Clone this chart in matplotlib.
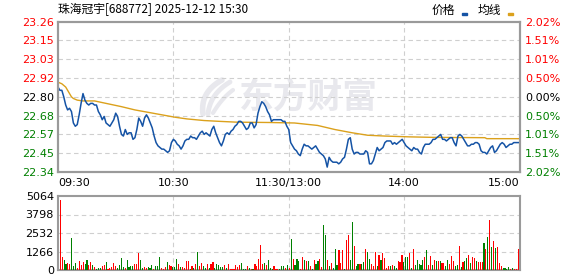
import matplotlib
matplotlib.use('Agg')
import matplotlib.pyplot as plt
import numpy as np

plt.rcParams['font.family'] = ['DejaVu Sans']

title = '珠海冠宇[688772] 2025-12-12 15:30'
prev_close = 22.80
price_labels = ['22.34', '22.45', '22.57', '22.68', '22.80', '22.92', '23.03', '23.15', '23.26']
pct_labels = ['2.02%', '1.51%', '1.01%', '0.50%', '0.00%', '0.50%', '1.01%', '1.51%', '2.02%']
vol_labels = ['0', '1266', '2532', '3798', '5064']
time_labels = ['09:30', '10:30', '11:30/13:00', '14:00', '15:00']

# one value per minute, 09:30 .. 11:30 / 13:00 .. 15:00
price = [
    22.86, 22.84, 22.84, 22.80, 22.75, 22.72, 22.73, 22.71, 22.64, 22.62,
    22.63, 22.69, 22.76, 22.82, 22.78, 22.76, 22.75, 22.76, 22.76, 22.75,
    22.75, 22.71, 22.69, 22.66, 22.68, 22.64, 22.63, 22.62, 22.64, 22.66,
    22.70, 22.68, 22.62, 22.57, 22.56, 22.60, 22.57, 22.58, 22.58, 22.54,
    22.55, 22.60, 22.67, 22.65, 22.62, 22.67, 22.69, 22.67, 22.64, 22.61,
    22.56, 22.52, 22.50, 22.49, 22.48, 22.48, 22.47, 22.46, 22.47, 22.52,
    22.54, 22.53, 22.51, 22.50, 22.48, 22.50, 22.53, 22.54, 22.54, 22.56,
    22.55, 22.55, 22.54, 22.56, 22.58, 22.59, 22.57, 22.58, 22.57, 22.56,
    22.60, 22.62, 22.58, 22.55, 22.52, 22.50, 22.53, 22.57, 22.58, 22.57,
    22.59, 22.60, 22.62, 22.63, 22.65, 22.65, 22.64, 22.62, 22.60, 22.61,
    22.64, 22.64, 22.61, 22.63, 22.70, 22.74, 22.77, 22.76, 22.74, 22.71,
    22.69, 22.65, 22.66, 22.66, 22.66, 22.66, 22.66, 22.65, 22.65, 22.62,
    22.60, 22.52, 22.50, 22.48, 22.47, 22.45, 22.44, 22.48, 22.51, 22.50,
    22.50, 22.49, 22.48, 22.49, 22.50, 22.48, 22.46, 22.45, 22.44, 22.42,
    22.37, 22.43, 22.41, 22.40, 22.40, 22.40, 22.39, 22.40, 22.42, 22.43,
    22.48, 22.54, 22.55, 22.48, 22.45, 22.46, 22.46, 22.45, 22.45, 22.45,
    22.47, 22.46, 22.39, 22.39, 22.41, 22.45, 22.49, 22.47, 22.48, 22.49,
    22.52, 22.53, 22.53, 22.53, 22.51, 22.52, 22.51, 22.52, 22.53, 22.54,
    22.52, 22.50, 22.49, 22.48, 22.47, 22.49, 22.48, 22.48, 22.46, 22.45,
    22.49, 22.51, 22.51, 22.51, 22.52, 22.54, 22.54, 22.55, 22.56, 22.57,
    22.54, 22.54, 22.53, 22.54, 22.55, 22.55, 22.52, 22.50, 22.56, 22.57,
    22.56, 22.54, 22.52, 22.50, 22.50, 22.51, 22.51, 22.52, 22.52, 22.51,
    22.47, 22.46, 22.46, 22.45, 22.47, 22.49, 22.50, 22.46, 22.47, 22.49,
    22.51, 22.52, 22.51, 22.49, 22.50, 22.51, 22.51, 22.52, 22.52, 22.52,
    22.52,
]

# average price line, read at its bends
avg_min = [0, 2, 4, 5, 7, 8, 10, 13, 19, 23, 27, 33, 40, 47, 54, 61, 67, 76,
           84, 93, 110, 123, 127, 135, 144, 153, 161, 170, 183, 195, 222, 223, 240]
avg_val = [22.89, 22.88, 22.86, 22.84, 22.80, 22.79, 22.78, 22.775, 22.775, 22.765,
           22.755, 22.74, 22.72, 22.705, 22.69, 22.675, 22.665, 22.655, 22.65, 22.645,
           22.643, 22.64, 22.635, 22.625, 22.60, 22.58, 22.565, 22.56, 22.555, 22.552,
           22.55, 22.544, 22.544]

vol_am1 = [4805, 867, 703, 422, 492, 422, 2180, 281, 469, 117,
           633, 352, 539, 422, 703, 352, 563, 352, 234, 70,
           141, 141, 305, 352, 563, 94, 141, 234, 492, 305,
           141, 352, 844, 234, 141, 703, 211, 305, 305, 422,
           422, 1195, 703, 164, 211, 141, 234, 164, 352, 94,
           281, 281, 914, 141, 94, 234, 563, 352, 305, 234, 211]
vol_am2 = [773, 398, 234, 234, 141, 633, 633, 94, 281, 117,
           422, 1266, 281, 469, 281, 141, 422, 141, 422, 563,
           141, 422, 352, 234, 234, 352, 141, 422, 94, 94,
           94, 352, 234, 352, 492, 94, 94, 281, 141, 94,
           94, 422, 281, 773, 1688, 422, 492, 352, 703, 141,
           94, 281, 94, 94, 94, 281, 281, 141, 352, 141]
vol_pm1 = [2110, 773, 352, 773, 633, 94, 914, 703, 633, 633,
           281, 94, 703, 422, 633, 773, 211, 3094, 2391, 703,
           281, 492, 141, 1406, 352, 1336, 492, 1336, 94, 2039,
           2391, 703, 3305, 1617, 281, 422, 422, 422, 563, 1406,
           1266, 773, 422, 281, 1266, 281, 1055, 703, 1195, 844,
           141, 281, 281, 352, 281, 141, 633, 563, 1055, 563, 914]
vol_pm2 = [914, 1195, 141, 1406, 352, 703, 422, 352, 703, 914,
           1336, 352, 984, 352, 703, 633, 633, 633, 492, 492,
           281, 703, 422, 984, 633, 281, 352, 1617, 211, 563,
           633, 844, 1055, 492, 914, 844, 633, 563, 563, 563,
           1828, 1406, 2250, 3446, 1547, 1969, 1477, 1547, 492, 281,
           141, 141, 70, 211, 70, 141, 70, 40, 1406]
# r = up minute, g = down minute
dir_am1 = 'rrggrrgggr' 'rrrggrrgrg' 'ggrrgrrrrr' 'ggggrggggr' 'rrggrrgggr' 'gggrrrgrrg' 'g'
dir_am2 = 'grgrrrrgrg' 'rgrrggrgrr' 'gggggrgrrr' 'rrrrgggrgr' 'grrrrrgrgg' 'grrrgggrgr'
dir_pm1 = 'grgggrrgrg' 'rgrggrrggr' 'grgggrrrgr' 'rggrggrggr' 'ggrrrgrgrr' 'rrgrggrrrg' 'g'
dir_pm2 = 'grgrgggggr' 'grrgrgrgrr' 'ggrrrggrgr' 'ggrgrrgrrr' 'grgrgrgrrr' 'ggggrgrrr'

volume = vol_am1 + vol_am2 + vol_pm1 + vol_pm2
direction = dir_am1 + dir_am2 + dir_pm1 + dir_pm2

RED = '#ff0000'
GREEN = '#008000'
BLUE = '#1553a5'
GOLD = '#dba11c'
FRAME = '#9a9a9a'
GRID = '#cfcfcf'
MARK = '#e8e8ed'

fig = plt.figure(figsize=(5.78, 2.76), dpi=100)
ax = fig.add_axes([58 / 578, 1 - 172 / 276, 461.5 / 578, 150.3 / 276])
axv = fig.add_axes([58 / 578, 1 - 270 / 276, 461.5 / 578, 74 / 276])

n = len(price)
minutes = np.arange(n)

# price panel
lo = float(price_labels[0])
hi = float(price_labels[-1])
half = max(prev_close - lo, hi - prev_close)
ax.set_xlim(0, n - 1)
ax.set_ylim(prev_close - half, prev_close + half)
levels = np.linspace(prev_close - half, prev_close + half, len(price_labels))

for lv in levels[1:-1]:
    ax.axhline(lv, color=GRID, lw=0.8, dashes=(4, 3), zorder=1)
for f in (0.25, 0.5, 0.75):
    ax.plot([f, f], [0, 1], transform=ax.transAxes, color=GRID, lw=0.8, dashes=(4, 3), zorder=1)

# watermark: feather logo + name
ax.text(130, prev_close, '东方财富', ha='center', va='center', fontsize=25,
        fontweight='bold', color=MARK, family=['Noto Sans CJK SC'], zorder=0)
px = lambda x, y: ((x - 58) / 461.5, (172 - y) / 150.3)
tt = np.linspace(0, 1, 30)
for (x0, y0), (xc, yc), (x1, y1), w in [((203, 114), (200, 92), (222, 80), 4.0),
                                         ((208, 114), (210, 94), (230, 82), 3.5),
                                         ((213, 113), (222, 98), (233, 90), 3.0)]:
    bx = (1 - tt) ** 2 * x0 + 2 * (1 - tt) * tt * xc + tt ** 2 * x1
    by = (1 - tt) ** 2 * y0 + 2 * (1 - tt) * tt * yc + tt ** 2 * y1
    pts = [px(a, b) for a, b in zip(bx, by)]
    ax.plot([p[0] for p in pts], [p[1] for p in pts], transform=ax.transAxes,
            color=MARK, lw=w, solid_capstyle='round', zorder=0)

ax.plot(avg_min, avg_val, color=GOLD, lw=1.0, zorder=3)
ax.plot(minutes, price, color=BLUE, lw=1.1, zorder=4)

ax.set_yticks(levels)
ax.set_yticklabels(price_labels)
ax.set_xticks([0, 60, 120, 180, 240])
ax.set_xticklabels(time_labels)
ax.tick_params(length=0, labelsize=8, pad=3)
ax.tick_params(axis='x', pad=4)
xl = ax.get_xticklabels()
xl[0].set_ha('left')
xl[-1].set_ha('right')
mid = len(price_labels) // 2
for i, t in enumerate(ax.get_yticklabels()):
    t.set_color(RED if i > mid else ('black' if i == mid else GREEN))

axr = ax.twinx()
axr.set_ylim(ax.get_ylim())
axr.set_yticks(levels)
axr.set_yticklabels(pct_labels)
axr.tick_params(length=0, labelsize=8, pad=4)
for i, t in enumerate(axr.get_yticklabels()):
    t.set_color(RED if i > mid else ('black' if i == mid else GREEN))

# volume panel
axv.set_xlim(-1.2, n - 0.4)
axv.set_ylim(0, float(vol_labels[-1]))
vlev = [float(v) for v in vol_labels]
for lv in vlev[1:-1]:
    axv.axhline(lv, color=GRID, lw=0.8, dashes=(4, 3), zorder=1)
for f in (0.25, 0.5, 0.75):
    axv.plot([f, f], [0, 1], transform=axv.transAxes, color=GRID, lw=0.8, dashes=(4, 3), zorder=1)
bar_colors = [RED if d == 'r' else GREEN for d in direction]
axv.bar(minutes, volume, width=0.6, color=bar_colors, linewidth=0,
        antialiased=False, zorder=3)
axv.set_yticks(vlev)
axv.set_yticklabels(vol_labels)
axv.set_xticks([])
axv.tick_params(length=0, labelsize=8, pad=3)

for a in (ax, axr, axv):
    for s in a.spines.values():
        s.set_color(FRAME)
        s.set_linewidth(1.5)

# header
cjk = ['Noto Sans CJK SC', 'DejaVu Sans']
fig.text(58 / 578, 1 - 10 / 276, title, ha='left', va='center', fontsize=8.5, family=cjk)
fig.text(455 / 578, 1 - 10 / 276, '价格', ha='right', va='center', fontsize=8.5, family=cjk)
fig.text(501 / 578, 1 - 10 / 276, '均线', ha='right', va='center', fontsize=8.5, family=cjk)
fig.patches.append(plt.Rectangle((462 / 578, 1 - 15 / 276), 5 / 578, 2 / 276,
                                 transform=fig.transFigure, color=BLUE))
fig.patches.append(plt.Rectangle((508 / 578, 1 - 15 / 276), 5 / 578, 2 / 276,
                                 transform=fig.transFigure, color=GOLD))

fig.savefig('out.png', dpi=100)
